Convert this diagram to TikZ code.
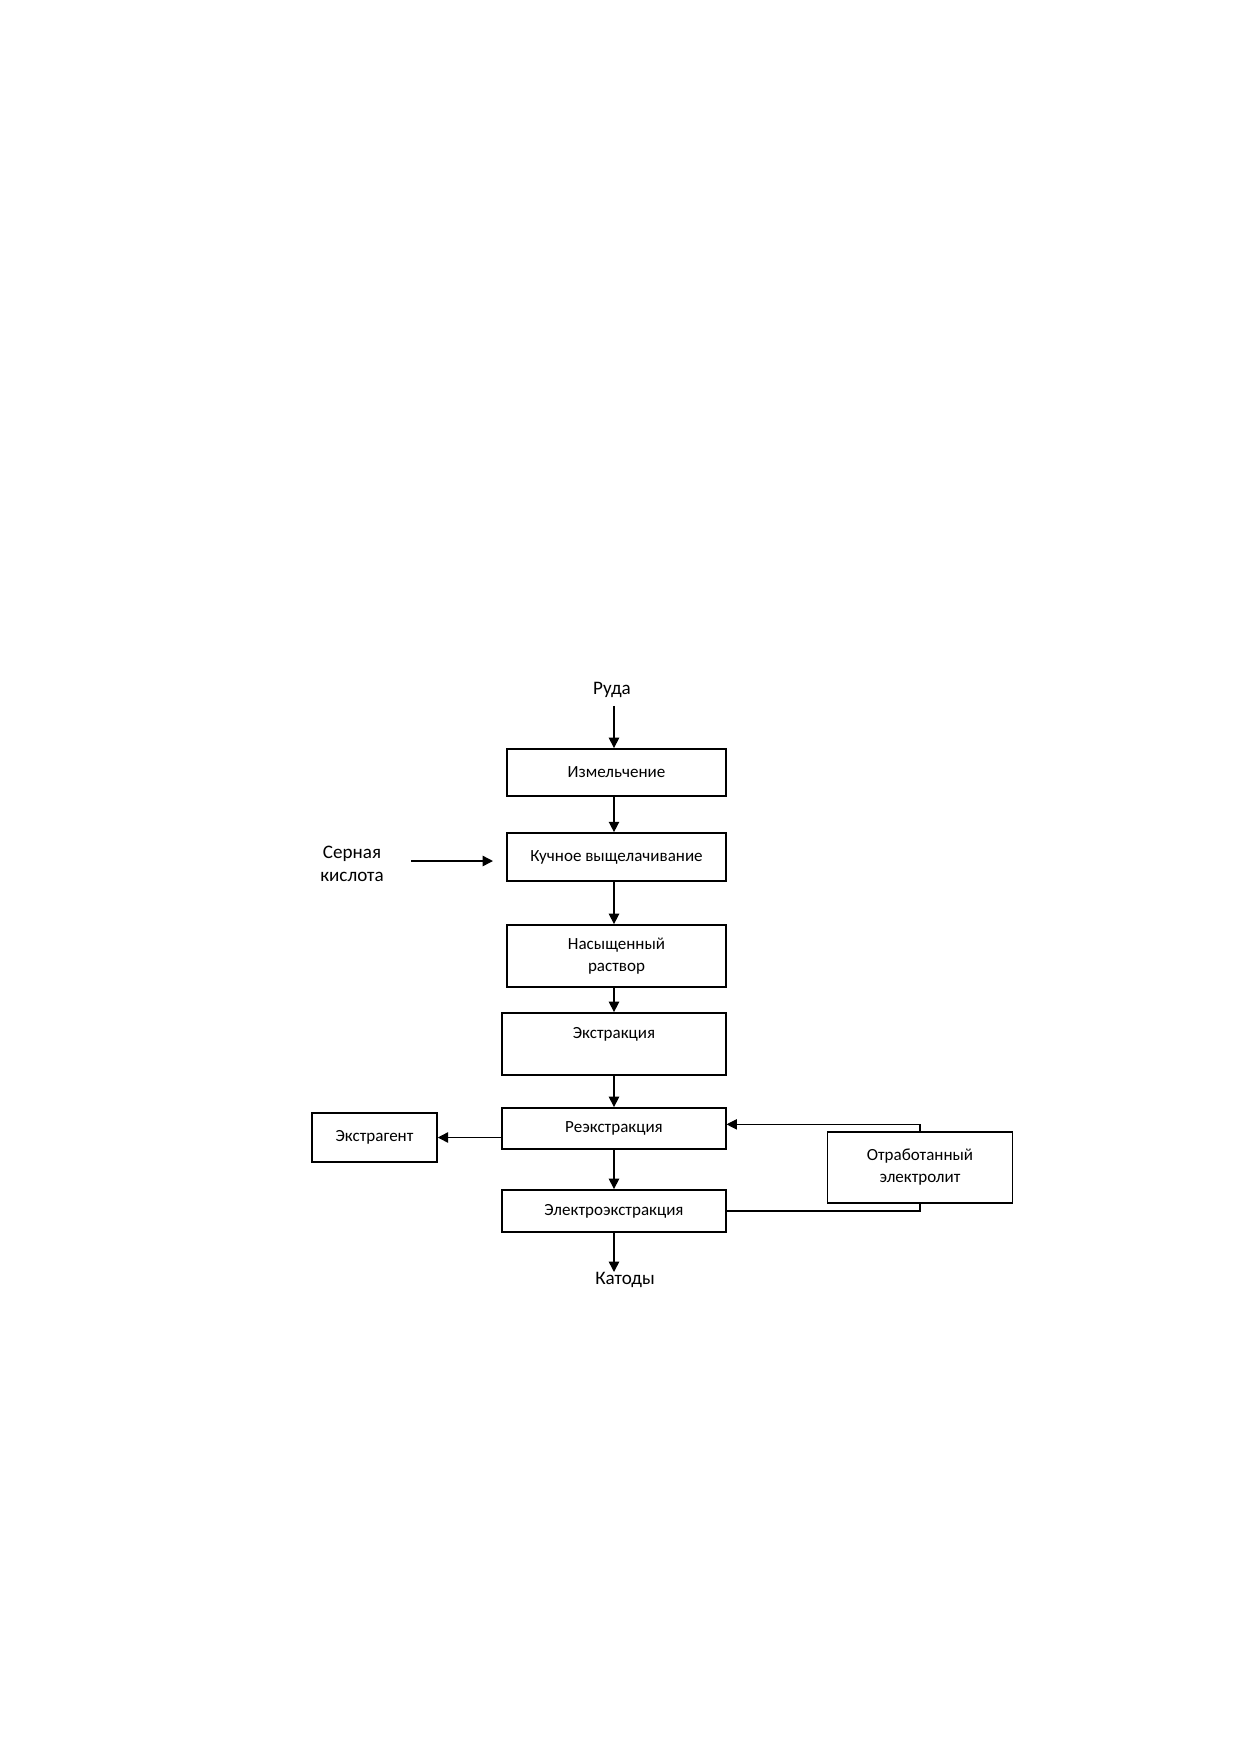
\documentclass[tikz,border=0pt]{standalone}
\usepackage{fontspec}
\setmainfont{Carlito}
\usetikzlibrary{arrows.meta}
\begin{document}
\begin{tikzpicture}[x=0.16935mm, y=-0.16935mm,
    every text node part/.style={align=center},
    box/.style={draw, line width=0.95pt, inner sep=0pt, font=\fontsize{8.2}{10.6}\selectfont},
    lbl/.style={inner sep=0pt, font=\fontsize{9.2}{11}\selectfont},
    arr/.style={-{Triangle[width=5pt,length=5pt]}, line width=0.7pt}]
            \useasboundingbox (0,0) rectangle (1240,1754);

            \node[lbl, anchor=base] (ruda) at(612,694) {Руда};
            \node[box, minimum width=105.1pt, minimum height=22.6pt] (1) at(616.5,772.5) {Измельчение};
            \node[box, minimum width=105.1pt, minimum height=23pt] (2) at(616.5,857) {Кучное выщелачивание};
            \node[lbl] (kisl) at(352,864) {Серная\\кислота};
            \node[box, minimum width=105.1pt, minimum height=29.8pt] (3) at(616.5,956) {Насыщенный\\раствор};
            \node[box, minimum width=107.5pt, minimum height=29.8pt] (4) at(614,1044) {Экстракция\\~};
            \node[box, minimum width=107.5pt, minimum height=19.7pt] (5) at(614,1128.5) {Реэкстракция};
            \node[box, minimum width=60pt, minimum height=23.5pt] (7) at(374.5,1137.5) {Экстрагент};
            \node[box, minimum width=107.5pt, minimum height=20.2pt] (6) at(614,1211) {Электроэкстракция};
            \node[box, line width=0.7pt, minimum width=89.3pt, minimum height=34.1pt] (8) at(920,1167.5) {Отработанный\\электролит};
            \node[lbl, anchor=north] (kat) at(625,1272) {Катоды};

            \coordinate (ax) at(614,0);
            \coordinate (k1) at(411,861);
            \coordinate (k2) at(493,861);

            \draw[arr, shorten <=4pt] (ruda.south -| ax) -- (1.north -| ax);
            \draw[arr] (1.south -| ax) -- (2.north -| ax);
            \draw[arr] (2.south -| ax) -- (3.north -| ax);
            \draw[arr] (3.south -| ax) -- (4.north -| ax);
            \draw[arr] (4.south -| ax) -- (5.north -| ax);
            \draw[arr] (5.south -| ax) -- (6.north -| ax);
            \draw[arr] (6.south -| ax) -- (kat.north -| ax);
            \draw[arr] (k1) -- (k2);
            \draw[arr] (7.east -| 5.west) -- (7.east);
            \draw[arr, line width=0.5pt] (8.north) |- ([yshift=2pt]5.east);
            \draw[line width=0.5pt] (6.east) -| (8.south);

        \end{tikzpicture}
\end{document}
